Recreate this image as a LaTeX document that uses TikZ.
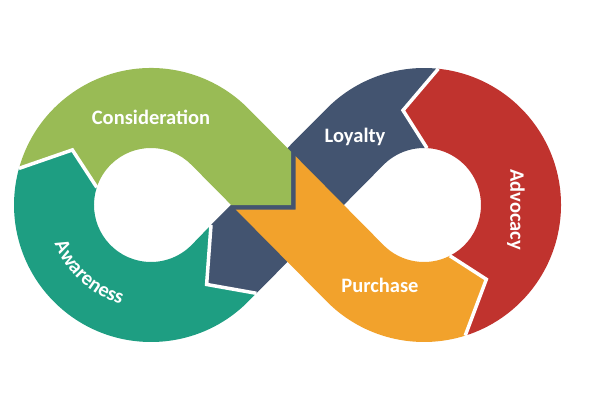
\documentclass[tikz,border=0pt]{standalone}
\usepackage{fontspec}
\setmainfont{Carlito}
\usetikzlibrary{decorations.text}
\definecolor{consid}{HTML}{99BB55}
\definecolor{aware}{HTML}{1E9E82}
\definecolor{loyal}{HTML}{435470}
\definecolor{advoc}{HTML}{C0332E}
\definecolor{purch}{HTML}{F2A22C}
\newcommand{\stagefont}{\fontsize{20.5}{24}\selectfont\bfseries}
\begin{document}
\begin{tikzpicture}[x=1pt,y=1pt,
  stagetext/.style={text=white,font=\stagefont},
  gap/.style={white,line width=3.5pt,line join=miter}]
  \useasboundingbox (0,0) rectangle (600,400);
  \coordinate (L) at (151,195);
  \coordinate (R) at (424,195);
  % bands
  \fill[loyal] ([shift={(84:137)}]R) arc[start angle=84, end angle=135.3, radius=137]
    -- (211,175) -- ([shift={(-55:97)}]L) -- (256.4,106.7)
    -- ([shift={(135.3:57)}]R) arc[start angle=135.3, end angle=87, radius=57]
    -- ([shift={(102.5:97)}]R) -- cycle;
  \fill[aware] (256.4,106.7) -- ([shift={(-44.7:137)}]L)
    arc[start angle=-44.7, end angle=-195.5, radius=137]
    -- ([shift={(145:96)}]L) -- ([shift={(162:57)}]L)
    arc[start angle=162, end angle=315.3, radius=57]
    -- (211,175) -- ([shift={(-55:97)}]L) -- cycle;
  \fill[consid] ([shift={(164.5:137)}]L) arc[start angle=164.5, end angle=44.7, radius=137]
    -- (291,248.3) -- (291,195) -- (231.2,195)
    -- ([shift={(44.7:57)}]L) arc[start angle=44.7, end angle=162, radius=57]
    -- ([shift={(145:96)}]L) -- cycle;
  \fill[purch] (295.5,243.8) -- (295.5,190.5) -- (235.7,190.5)
    -- ([shift={(224.7:137)}]R) arc[start angle=224.7, end angle=287.5, radius=137]
    -- ([shift={(-50:97)}]R) -- ([shift={(-63:57)}]R)
    arc[start angle=297, end angle=224.7, radius=57] -- cycle;
  \fill[advoc] ([shift={(-63:57)}]R) arc[start angle=-63, end angle=87, radius=57]
    -- ([shift={(102.5:97)}]R) -- ([shift={(84:137)}]R)
    arc[start angle=84, end angle=-72.5, radius=137]
    -- ([shift={(-50:97)}]R) -- cycle;
  % joints
  \draw[gap] ([shift={(164.5:137)}]L) -- ([shift={(145:96)}]L) -- ([shift={(162:57)}]L);
  \draw[gap] ([shift={(-72.5:137)}]R) -- ([shift={(-50:97)}]R) -- ([shift={(-63:57)}]R);
  \draw[gap] ([shift={(84:137)}]R) -- ([shift={(102.5:97)}]R) -- ([shift={(87:57)}]R);
  \draw[gap] (256.4,106.7) -- ([shift={(-55:97)}]L) -- (211,175);
  % labels
  \node[stagetext] (consideration) at (151,283) {Consideration};
  \node[stagetext] (loyalty) at (355,263) {Loyalty};
  \node[stagetext] (purchase) at (380,115) {Purchase};
  \node[stagetext,rotate=-90] (advocacy) at (516,190.5) {Advocacy};
  \path[decorate,decoration={text along path,text align=center,text color=white,
    text={|\stagefont|Awareness}}]
    ([shift={(193:104)}]L) arc[start angle=193, end angle=262, radius=104];
\end{tikzpicture}
\end{document}
